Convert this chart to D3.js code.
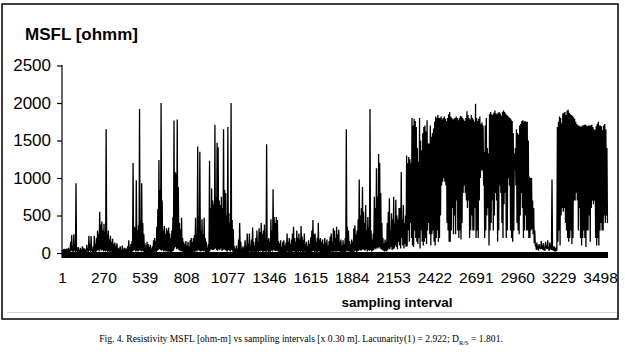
<!DOCTYPE html>
<html><head><meta charset="utf-8">
<script src="https://cdn.jsdelivr.net/npm/d3@7"></script>
<style>
html,body{margin:0;padding:0;background:#fff;}
svg{display:block;}
</style></head>
<body><svg id="chart" width="625" height="354"></svg>
<script>
// Y axis ticks and X axis tick labels (sampling interval)
const yTicks = [0, 500, 1000, 1500, 2000, 2500];
const xTickLabels = [1, 270, 539, 808, 1077, 1346, 1615, 1884, 2153, 2422, 2691, 2960, 3229, 3498];
// The dense series in bins of 7 sampling intervals:
// for each bin its highest and its lowest MSFL value [ohmm].
const binSize = 7;
const firstInterval = 1;
const msflHigh = [
40,25,55,30,60,35,70,45,150,240,
90,250,120,930,60,80,40,70,50,90,
40,60,50,110,70,230,120,225,50,90,
230,120,200,300,260,550,380,420,300,390,
280,1650,250,300,180,230,150,190,120,140,
100,130,70,60,90,40,100,50,70,35,
60,90,170,80,120,160,1200,350,340,970,
300,370,1920,420,930,400,250,130,100,150,
120,80,110,60,90,170,200,160,350,590,
1240,840,2000,700,300,360,250,330,300,340,
260,200,300,480,1765,1080,1060,1780,880,400,
320,470,200,150,120,160,100,150,80,170,
200,150,200,240,470,250,1420,500,1350,300,
450,250,470,200,150,80,120,1230,600,860,
700,650,1710,750,1470,1410,700,640,750,600,
1650,840,800,500,1680,530,400,2000,440,320,
90,60,100,50,180,400,150,60,90,70,
170,90,260,120,260,100,180,340,150,100,
200,300,150,330,280,400,250,300,380,200,
1450,180,200,150,450,300,850,480,400,480,
440,160,130,170,80,150,170,100,140,260,
150,200,120,180,260,350,200,150,300,200,
260,180,360,220,170,260,120,150,90,170,
120,210,300,440,250,260,150,200,400,180,
200,150,180,120,200,140,180,100,160,220,
260,150,330,300,200,350,250,310,150,180,
100,170,120,200,1650,350,300,160,120,180,
150,330,370,250,300,450,980,500,600,880,
550,400,640,300,480,350,1920,300,180,260,
750,600,1130,750,1320,1200,800,400,200,130,
180,150,400,550,730,300,530,450,750,400,
710,500,450,600,600,1080,450,640,400,500,
1300,1200,1280,1250,1200,1800,1700,1790,1760,1680,
1400,1220,1800,1500,1370,1600,1680,1700,1620,1770,
1460,1460,1700,1550,1600,1660,1750,1820,1800,1840,
1800,1800,1820,1780,1800,1820,1790,1760,1800,1850,
1880,1820,1800,1780,1790,1800,1820,1800,1770,1800,
1830,1820,1800,1780,1760,1800,1890,1840,1800,1780,
1840,1800,1780,1750,1990,1800,1760,1790,1820,1720,
1740,1700,1350,1700,1800,1400,1330,1850,1880,1850,
1840,1870,1900,1860,1850,1870,1880,1860,1830,1880,
1900,1880,1860,1840,1830,1810,1800,1780,1760,1600,
1330,1400,1650,1600,1580,1700,1720,1760,1770,1750,
1760,1750,1750,1500,1020,1000,1000,700,600,300,
100,140,70,120,90,160,80,130,60,150,
100,170,60,140,100,980,60,90,50,80,
1680,1750,1820,1800,1730,1860,1870,1880,1840,1900,
1910,1870,1850,1840,1830,1810,1790,1750,1720,1700,
1700,1690,1680,1700,1700,1710,1710,1700,1690,1700,
1700,1700,1710,1680,1650,1640,1690,1720,1750,1700,
1700,1690,1640,1700,1720,1650,1400
];
const msflLow = [
10,0,15,5,20,0,10,5,30,20,
15,30,10,20,5,15,0,10,5,20,
0,10,5,20,10,30,15,25,5,10,
20,10,30,40,20,50,30,40,20,30,
20,30,10,25,15,20,5,15,10,5,
0,10,5,0,10,5,15,0,10,5,
10,5,20,10,15,20,30,40,20,30,
20,30,40,20,30,20,10,15,5,10,
10,5,15,0,10,15,20,10,30,40,
50,40,30,40,20,30,20,25,15,20,
15,10,20,30,60,80,50,60,40,30,
20,25,10,15,5,10,0,10,5,15,
10,5,20,15,30,20,40,30,20,25,
30,20,25,10,15,5,10,30,50,40,
40,50,60,40,30,50,40,60,30,40,
50,40,30,20,40,30,20,40,20,10,
5,10,0,10,5,15,5,0,10,5,
10,5,15,10,20,5,10,20,10,5,
15,20,10,25,20,30,15,20,25,10,
30,15,20,10,30,20,40,30,25,30,
20,10,5,15,0,10,15,5,10,20,
10,15,5,10,20,25,10,5,20,15,
20,10,25,15,10,20,5,10,0,10,
5,15,20,30,15,20,10,15,25,10,
15,10,5,0,10,5,15,0,10,15,
20,10,25,20,15,25,20,25,10,15,
5,10,0,15,30,20,25,10,5,10,
10,20,30,15,20,30,40,30,40,50,
40,30,50,20,40,30,40,20,30,40,
60,50,70,60,80,60,50,40,30,20,
30,20,40,60,50,80,40,50,60,100,
80,50,150,100,60,200,100,60,120,80,
90,300,150,400,200,100,80,300,200,150,
120,200,60,300,150,100,150,200,120,300,
400,250,100,250,300,150,100,200,300,150,
200,500,900,950,1000,950,900,400,300,150,
150,300,600,250,500,250,700,300,200,300,
180,400,800,900,800,700,600,700,200,300,
500,300,300,600,200,300,200,700,1000,1100,
1100,900,200,300,500,600,100,300,400,700,
300,500,800,700,150,300,900,800,400,200,
650,800,200,300,1000,900,300,200,150,300,
1100,900,400,300,250,500,800,600,200,300,
500,300,300,200,200,300,320,250,130,100,
40,50,30,60,50,60,40,50,30,60,
50,60,30,50,40,40,30,40,20,30,
150,300,100,500,600,550,600,400,300,200,
150,200,300,120,200,700,700,800,700,300,
600,200,100,200,300,200,80,300,300,500,
150,600,700,650,700,200,100,200,100,300,
400,300,300,500,400,500,400
];

const svg = d3.select("#chart");
const font = "Arial, 'Liberation Sans', sans-serif";

// frame
svg.append("rect").attr("x",2).attr("y",4).attr("width",616).attr("height",315)
  .attr("fill","none").attr("stroke","#000").attr("stroke-width",1.5);
svg.append("line").attr("x1",7).attr("x2",617).attr("y1",312.5).attr("y2",312.5)
  .attr("stroke","#d4d4d4").attr("stroke-width",1);

const x = d3.scaleLinear().domain([1, 3550]).range([62, 608]);
const y = d3.scaleLinear().domain([0, 2500]).range([253, 65.5]);

// series: each bin contributes its high then its low value
const data = [];
msflHigh.forEach((v,i)=>{
  const t = firstInterval + i*binSize;
  data.push({t: t, v: v});
  data.push({t: t + binSize/2, v: msflLow[i]});
});

svg.append("path").datum(data)
  .attr("fill","none").attr("stroke","#000").attr("stroke-width",1.3)
  .attr("d", d3.line().x(d=>x(d.t)).y(d=>y(d.v)));

// thick x axis band
svg.append("line").attr("x1",x(1)).attr("x2",608).attr("y1",255).attr("y2",255)
  .attr("stroke","#000").attr("stroke-width",6);

// y axis
const yAxis = d3.axisLeft(y).tickValues(yTicks).tickSize(5).tickSizeOuter(0).tickPadding(6).tickFormat(d3.format("d"));
const gy = svg.append("g").attr("transform","translate(62,0)").call(yAxis);
gy.select(".domain").remove();
gy.append("line").attr("x1",0).attr("x2",0).attr("y1",65).attr("y2",258).attr("stroke","#000").attr("stroke-width",1.2);
gy.selectAll(".tick line").attr("stroke","#000").attr("stroke-width",1.2);
gy.selectAll(".tick text").attr("font-family",font).attr("font-size","17px").attr("fill","#000");

// x tick labels
const gx = svg.append("g").attr("transform","translate(0,258)")
  .call(d3.axisBottom(x).tickValues(xTickLabels).tickSize(0).tickPadding(14).tickFormat(d3.format("d")));
gx.select(".domain").remove();
gx.selectAll(".tick text").attr("font-family",font).attr("font-size","15.5px").attr("fill","#000");

// titles
svg.append("text").attr("x",25).attr("y",39.5).attr("font-family",font)
  .attr("font-size","17px").attr("font-weight","bold").text("MSFL [ohmm]");
svg.append("text").attr("x",397).attr("y",307).attr("text-anchor","middle").attr("font-family",font)
  .attr("font-size","13.5px").attr("font-weight","bold").text("sampling interval");

// caption
const cap = svg.append("text").attr("x",301).attr("y",342).attr("text-anchor","middle")
  .attr("font-family","'Liberation Serif','Times New Roman',serif").attr("font-size","9.6px");
cap.append("tspan").text("Fig. 4. Resistivity MSFL [ohm-m] vs sampling intervals [x 0.30 m]. Lacunarity(1) = 2.922; D");
cap.append("tspan").attr("font-size","6.5px").attr("dy",2.5).text("R/S");
cap.append("tspan").attr("dy",-2.5).text(" = 1.801.");
</script></body></html>
